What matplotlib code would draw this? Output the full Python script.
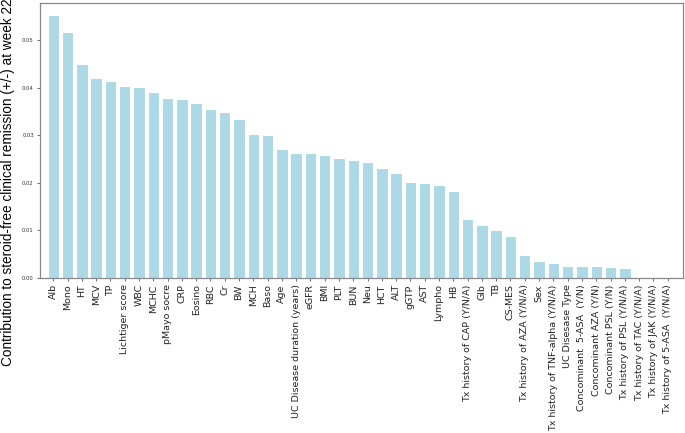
import matplotlib
matplotlib.use("Agg")
import matplotlib.pyplot as plt
import numpy as np

features = ["Alb", "Mono", "HT", "MCV", "TP", "Lichtiger score", "WBC", "MCHC",
            "pMayo socre", "CRP", "Eosino", "RBC", "Cr", "BW", "MCH", "Baso", "Age",
            "UC Disease duration (years)", "eGFR", "BMI", "PLT", "BUN", "Neu", "HCT",
            "ALT", "gGTP", "AST", "Lympho", "HB", "Tx history of CAP (Y/N/A)", "Glb",
            "TB", "CS-MES", "Tx history of AZA (Y/N/A)", "Sex",
            "Tx history of TNF-alpha (Y/N/A)", "UC Disesase Type",
            "Concominant  5-ASA  (Y/N)", "Concominant AZA (Y/N)",
            "Concominant PSL (Y/N)", "Tx history of PSL (Y/N/A)",
            "Tx history of TAC (Y/N/A)", "Tx history of JAK (Y/N/A)",
            "Tx history of 5-ASA  (Y/N/A)"]
importance = [0.0553, 0.0516, 0.0449, 0.0420, 0.0413, 0.0404, 0.0402, 0.0390,
              0.0379, 0.0376, 0.0368, 0.0356, 0.0348, 0.0335, 0.0302, 0.0301, 0.0272,
              0.0263, 0.0263, 0.0259, 0.0252, 0.0249, 0.0244, 0.0231, 0.0220, 0.0202,
              0.0199, 0.0195, 0.0183, 0.0123, 0.0112, 0.0100, 0.0089, 0.0049, 0.0036,
              0.0032, 0.0026, 0.0026, 0.0025, 0.0023, 0.0021, 0.0, 0.0, 0.0]
yticks = [0.00, 0.01, 0.02, 0.03, 0.04, 0.05]
ylabel = "Contribution to steroid-free clinical remission (+/-) at week 22"

fig = plt.figure(figsize=(6.85, 4.33), dpi=100)
ax = fig.add_axes([0.0584, 0.358, 0.9386, 0.634])
x = np.arange(len(features))
ax.bar(x, importance, width=0.8, color="#add8e6", edgecolor="white", linewidth=0.8)
ax.set_xlim(-0.93, len(features) + 0.07)
ax.set_ylim(0, 0.0577)
ax.set_xticks(x)
ax.set_xticklabels(features, rotation=90, fontsize=6.8, color="#222222")
ax.set_yticks(yticks)
ax.set_yticklabels([f"{v:.2f}" for v in yticks], fontsize=3.8, color="#333333")
ax.tick_params(axis="x", length=2.5, width=0.6, color="#555555", pad=2)
ax.tick_params(axis="y", length=2.5, width=0.6, color="#555555", pad=2)
for s in ax.spines.values():
    s.set_color("#888888")
    s.set_linewidth(0.9)
fig.text(0.012, 0.578, ylabel, rotation=90, va="center", ha="center",
         fontsize=9.8, family="Liberation Sans")
fig.savefig("out.png", dpi=100)
